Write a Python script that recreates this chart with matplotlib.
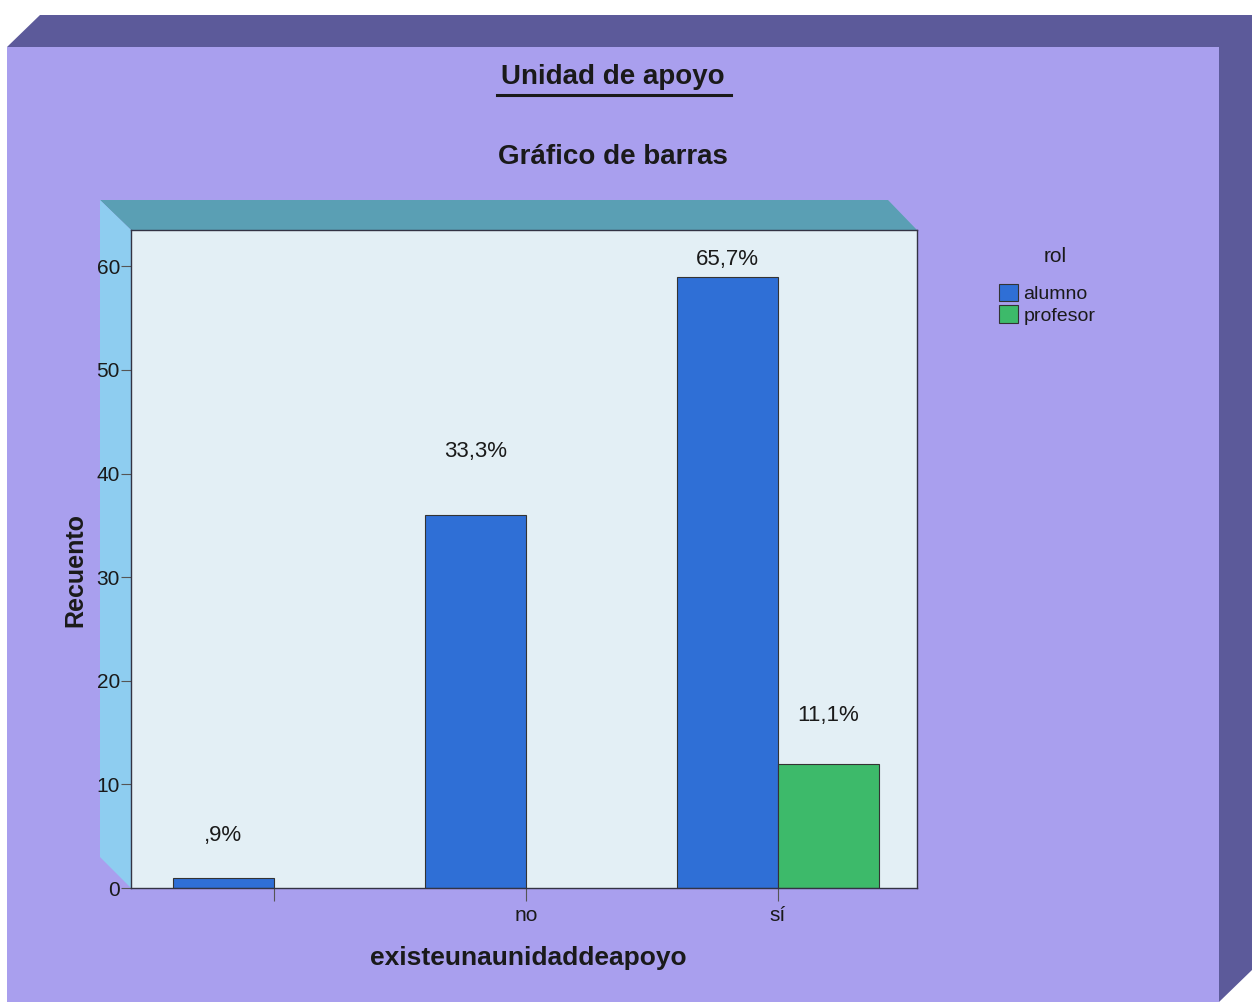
import matplotlib
matplotlib.use("Agg")
import matplotlib.pyplot as plt
from matplotlib.patches import Polygon, Patch
from matplotlib.lines import Line2D
import numpy as np

# ---------------- data ----------------
categories = ["", "no", "sí"]
series_names = ["alumno", "profesor"]
alumno = [1, 36, 59]
profesor = [0, 0, 12]
alumno_labels = [",9%", "33,3%", "65,7%"]
profesor_labels = ["", "", "11,1%"]
y_ticks = [0, 10, 20, 30, 40, 50, 60]

# ---------------- style ----------------
W, H = 1257, 1002
BG = "#a99fee"
SHADOW = "#5c5a9a"
TOPBAND = "#5a9fb4"
LEFTBAND = "#8ecdf0"
FACE = "#e3eff5"
BLUE = "#2f6fd6"
GREEN = "#3dba6a"
TXT = "#1a1a1a"
FONT = ["Liberation Sans", "DejaVu Sans"]
plt.rcParams["font.family"] = FONT

fig = plt.figure(figsize=(W / 100, H / 100), dpi=100)
fig.patch.set_facecolor("white")


def P(pts, color, z=-5):
    pts = [(x / W, 1 - y / H) for x, y in pts]
    fig.patches.append(Polygon(pts, closed=True, transform=fig.transFigure,
                               facecolor=color, edgecolor="none", zorder=z))


# background panel with 3D shadow
P([(7, 47), (40, 15), (1252, 15), (1252, 970), (1219, 1002), (1219, 47)], SHADOW)
P([(7, 47), (1219, 47), (1219, 1002), (7, 1002)], BG)
# 3D frame of the plot area
P([(100, 200), (888, 200), (917, 230), (131, 230)], TOPBAND)
P([(100, 200), (131, 230), (131, 888), (100, 857)], LEFTBAND)

# axes
ax = fig.add_axes([131 / W, 1 - 888 / H, (917 - 131) / W, (888 - 230) / H])
ax.set_zorder(2)
ax.set_facecolor(FACE)
x = np.arange(len(categories))
bw = 0.4
b1 = ax.bar(x - bw / 2, alumno, bw, color=BLUE, edgecolor="#333333", linewidth=0.8, label=series_names[0])
b2 = ax.bar(x + bw / 2, profesor, bw, color=GREEN, edgecolor="#333333", linewidth=0.8, label=series_names[1])
# hide zero-height bars
for r, v in zip(b2, profesor):
    if v == 0:
        r.set_visible(False)

ax.set_xlim(-0.567, 2.552)
ax.set_ylim(0, 63.5)
ax.set_xticks(x)
ax.set_xticklabels(categories, fontsize=15, color=TXT)
ax.set_yticks(y_ticks)
ax.set_yticklabels([str(t) for t in y_ticks], fontsize=15, color=TXT)
ax.tick_params(axis="x", length=9, width=0.8, color="#555555", pad=4)
ax.tick_params(axis="y", length=7, width=0.8, color="#555555", pad=1)
for s in ax.spines.values():
    s.set_color("#333344")
    s.set_linewidth(1.0)

# percentage labels (offsets in points, as placed in the reference)
a_off = [30, 46, 12]
p_off = [0, 0, 35]
for r, lab, off in zip(b1, alumno_labels, a_off):
    if lab:
        ax.annotate(lab, (r.get_x() + r.get_width() / 2, r.get_height()),
                    xytext=(0, off), textcoords="offset points",
                    ha="center", va="center", fontsize=16, color=TXT)
for r, lab, off, v in zip(b2, profesor_labels, p_off, profesor):
    if lab:
        ax.annotate(lab, (r.get_x() + r.get_width() / 2, v),
                    xytext=(0, off), textcoords="offset points",
                    ha="center", va="center", fontsize=16, color=TXT)

# axis titles
fig.text(75 / W, 1 - 570 / H, "Recuento", rotation=90, ha="center", va="center",
         fontsize=18, fontweight="bold", color=TXT)
fig.text(528 / W, 1 - 958 / H, "existeunaunidaddeapoyo", ha="center", va="center",
         fontsize=19, fontweight="bold", color=TXT)

# titles
fig.text(613 / W, 1 - 77 / H, "Unidad de apoyo", ha="center", va="center",
         fontsize=20, fontweight="bold", color=TXT)
fig.add_artist(Line2D([497 / W, 731 / W], [1 - 95 / H, 1 - 95 / H],
                      transform=fig.transFigure, color=TXT, linewidth=2.2))
fig.text(613 / W, 1 - 157 / H, "Gráfico de barras", ha="center", va="center",
         fontsize=20, fontweight="bold", color=TXT)

# legend
handles = [Patch(facecolor=BLUE, edgecolor="#333333", linewidth=0.8),
           Patch(facecolor=GREEN, edgecolor="#333333", linewidth=0.8)]
fig.text(1055 / W, 1 - 257 / H, "rol", ha="center", va="center", fontsize=15, color=TXT)
leg = fig.legend(handles, series_names, loc="upper left",
                 bbox_to_anchor=(995 / W, 1 - 280 / H), frameon=False,
                 fontsize=14, handlelength=1.0, handleheight=1.0,
                 handletextpad=0.25, labelspacing=0.1, borderpad=0.2,
                 borderaxespad=0)
for t in leg.get_texts():
    t.set_color(TXT)

fig.savefig("out.png", dpi=100, facecolor=fig.get_facecolor())
